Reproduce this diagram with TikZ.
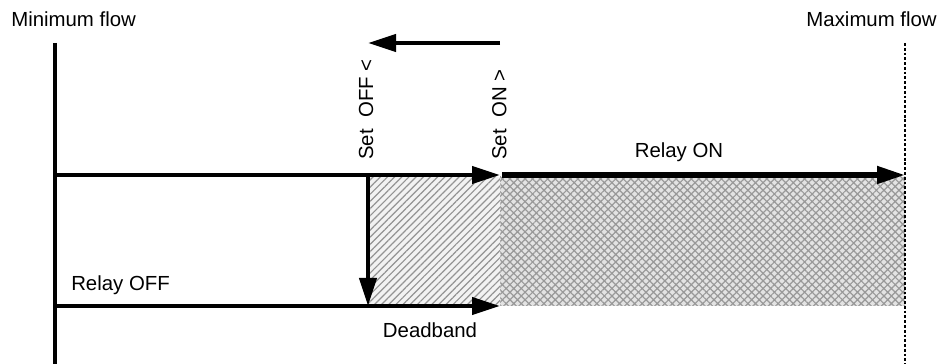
\documentclass[tikz,border=0pt]{standalone}
\usepackage{fontspec}
\setmainfont{Liberation Sans}
\usetikzlibrary{arrows.meta, patterns.meta, positioning, calc}

\tikzset{
    flowline/.style={line width=3.2pt, -{Triangle[length=0.7cm, width=0.42cm]}},
    bigline/.style={line width=3.8pt, -{Triangle[length=0.7cm, width=0.42cm]}},
    axisline/.style={line width=3.3pt},
    label/.style={font=\fontsize{14.5}{17}\selectfont, inner sep=0pt},
    deadzone/.style={preaction={fill=gray!10}, pattern={Lines[angle=45, distance=3.6pt, line width=0.85pt]}, pattern color=gray!85},
    onzone/.style={preaction={fill=gray!22}, pattern={Hatch[angle=45, distance=3.8pt, line width=0.85pt]}, pattern color=gray!80}
}

\begin{document}
\begin{tikzpicture}
    \useasboundingbox[fill=white] (0,0) rectangle (23.6,9.1);

    % Points
    \coordinate (minTop) at (1.375,8.025);
    \coordinate (minBot) at (1.375,0);
    \coordinate (maxTop) at (22.625,8.025);
    \coordinate (maxBot) at (22.625,0);
    \coordinate (onStart) at (1.375,4.725);
    \coordinate (onSet) at (12.5,4.725);
    \coordinate (onEnd) at (22.625,4.725);
    \coordinate (offStart) at (1.375,1.45);
    \coordinate (offEnd) at (12.5,1.45);
    \coordinate (offSet) at (9.2,4.725);
    \coordinate (offSetBot) at (9.2,1.45);
    \coordinate (dirStart) at (12.5,8.025);
    \coordinate (dirEnd) at (9.2,8.025);

    % Zones
    \path[deadzone] (9.2,4.68) rectangle (offEnd);
    \path[onzone] (12.5,4.68) rectangle (22.625,1.45);

    % Limits
    \draw[axisline] (minTop) -- (minBot);
    \draw[line width=2pt, dash pattern=on 2pt off 1.4pt] (maxTop) -- (maxBot);

    % Relay lines
    \draw[flowline] (onStart) -- (onSet);
    \draw[bigline] ($(onSet)+(0.06,0)$) -- (onEnd);
    \draw[flowline] (offStart) -- (offEnd);
    \draw[flowline] (offSet) -- (offSetBot);
    \draw[flowline] (dirStart) -- (dirEnd);

    % Texts
    \node[label, anchor=base west] (minLabel) at (0.275,8.425) {Minimum flow};
    \node[label, anchor=base east] (maxLabel) at (23.425,8.425) {Maximum flow};
    \node[label, anchor=base] (onLabel) at (16.975,5.15) {Relay ON};
    \node[label, anchor=base west] (offLabel) at (1.775,1.825) {Relay OFF};
    \node[label, anchor=base] (bandLabel) at (10.75,0.65) {Deadband};
    \node[label, rotate=90, anchor=base west] (setOff) at (9.325,5.1) {Set\ \ OFF <};
    \node[label, rotate=90, anchor=base west] (setOn) at (12.66,5.1) {Set\ \ ON >};
\end{tikzpicture}
\end{document}
